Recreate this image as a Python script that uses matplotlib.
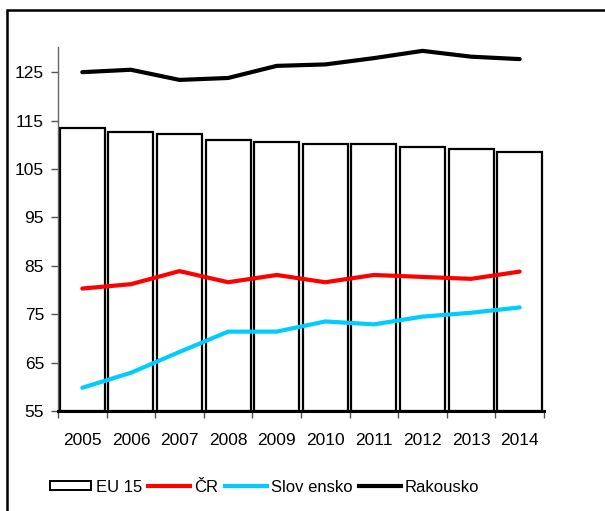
import matplotlib
matplotlib.use("Agg")
import matplotlib.pyplot as plt
from matplotlib.patches import Rectangle, Patch
from matplotlib.lines import Line2D
import numpy as np

plt.rcParams['font.family'] = ['Liberation Sans', 'DejaVu Sans']

years = ['2005', '2006', '2007', '2008', '2009', '2010', '2011', '2012', '2013', '2014']
eu15 = [113.4, 112.6, 112.2, 111.0, 110.6, 110.2, 110.2, 109.5, 109.1, 108.6]
cr = [80.3, 81.2, 83.9, 81.6, 83.1, 81.6, 83.1, 82.7, 82.3, 83.8]
slovensko = [59.8, 62.9, 67.2, 71.4, 71.4, 73.5, 72.9, 74.5, 75.3, 76.4]
rakousko = [125.0, 125.5, 123.4, 123.8, 126.3, 126.6, 127.9, 129.4, 128.2, 127.7]
yticks = [55, 65, 75, 85, 95, 105, 115, 125]

fig = plt.figure(figsize=(6.05, 5.11), dpi=100)
ax = fig.add_axes([58/605, 1-411/511, (544-58)/605, (411-47)/511])

x = np.arange(len(years))
base = 55
ax.bar(x, np.array(eu15) - base, bottom=base, width=0.93, color='white',
       edgecolor='black', linewidth=1.6, zorder=2)
ax.plot(x, cr, color='#ff0000', lw=3.0, zorder=3, solid_capstyle='round')
ax.plot(x, slovensko, color='#00ccff', lw=3.0, zorder=3, solid_capstyle='round')
ax.plot(x, rakousko, color='black', lw=3.0, zorder=3, solid_capstyle='round')

fs = 12.5
ax.set_xlim(-0.5, len(years) - 0.5)
ax.set_ylim(55, 130.2)
ax.set_yticks(yticks)
ax.set_yticklabels([str(v) for v in yticks], fontsize=fs)
ax.set_xticks(x)
ax.set_xticklabels(years, fontsize=fs)
ax.set_xticks(np.arange(len(years) + 1) - 0.5, minor=True)
ax.tick_params(axis='x', which='major', length=0, pad=16)
ax.tick_params(axis='x', which='minor', length=5, width=1, direction='out', color='#555555')
ax.tick_params(axis='y', length=5, width=1, direction='out', color='#555555', pad=5)
for s in ['top', 'right']:
    ax.spines[s].set_visible(False)
ax.spines['left'].set_color('#666666')
ax.spines['left'].set_linewidth(1)
ax.spines['bottom'].set_color('black')
ax.spines['bottom'].set_linewidth(2.2)
ax.patch.set_visible(False)

# outer frame
fig.patches.append(Rectangle((7/605, -0.1), 1.2, 1 - 10/511 + 0.1, transform=fig.transFigure,
                             fill=False, edgecolor='black', linewidth=1.8))

handles = [Patch(facecolor='white', edgecolor='black', linewidth=1.4),
           Line2D([], [], color='#ff0000', lw=3.0),
           Line2D([], [], color='#00ccff', lw=3.0),
           Line2D([], [], color='black', lw=3.0)]
labels = ['EU 15', 'ČR', 'Slov ensko', 'Rakousko']
fig.legend(handles, labels, loc='center left', bbox_to_anchor=(38/605, 1 - 487/511), ncol=4,
           frameon=False, fontsize=12, handlelength=2.5, handletextpad=0.25,
           columnspacing=0.4, handleheight=0.45, borderpad=0.2)

fig.savefig('out.png', dpi=100)
